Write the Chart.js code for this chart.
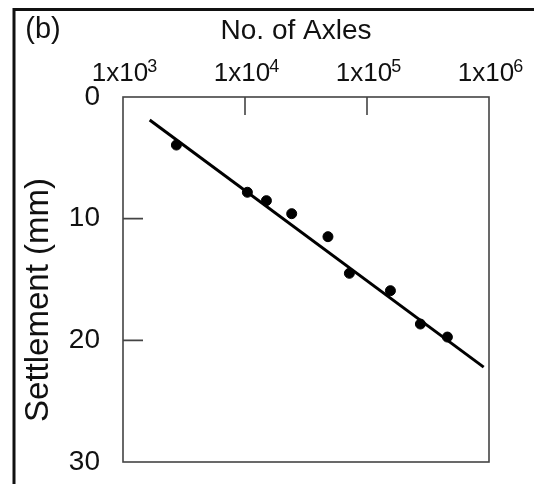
<!DOCTYPE html>
<html>
<head>
<meta charset="utf-8">
<script src="https://cdn.jsdelivr.net/npm/chart.js@4/dist/chart.umd.min.js"></script>
<style>
  html, body { margin: 0; padding: 0; background: #fff; }
  #wrap { width: 534px; height: 484px; }
</style>
</head>
<body>
<div id="wrap"><canvas id="chart" width="534" height="484"></canvas></div>
<script>
// Datos
const axles = [2740, 10460, 14980, 24140, 47860, 71730, 155600, 274000, 456000];
const settlement = [3.95, 7.83, 8.52, 9.59, 11.48, 14.49, 15.92, 18.66, 19.73];

// Recta de ajuste (extremos)
const fitAxles = [1655, 904500];
const fitSettlement = [1.89, 22.2];

// Ejes
const xTickValues = [1e3, 1e4, 1e5, 1e6];
const xTickBase = ['1x10', '1x10', '1x10', '1x10'];
const xTickExp = ['3', '4', '5', '6'];
const yTickValues = [0, 10, 20, 30];

const FONT = '"Liberation Sans", Arial, sans-serif';

function toPoints(xs, ys) {
    return xs.map((x, i) => ({ x: x, y: ys[i] }));
}

// Marco, caja del gráfico, marcas interiores y textos
const decorations = {
    id: 'decorations',
    afterDraw(chart) {
        const ctx = chart.ctx;
        const a = chart.chartArea;
        const xs = chart.scales.x;
        const ys = chart.scales.y;
        ctx.save();

        // marco exterior
        ctx.strokeStyle = '#111';
        ctx.lineWidth = 3;
        ctx.strokeRect(14, 9.5, 560, 520);

        // caja
        ctx.strokeStyle = '#444';
        ctx.lineWidth = 1.6;
        ctx.strokeRect(a.left, a.top, a.right - a.left, a.bottom - a.top);

        // marcas hacia dentro
        ctx.beginPath();
        xTickValues.slice(1, -1).forEach(v => {
            const px = xs.getPixelForValue(v);
            ctx.moveTo(px, a.top);
            ctx.lineTo(px, a.top + 18);
        });
        yTickValues.slice(1, -1).forEach(v => {
            const py = ys.getPixelForValue(v);
            ctx.moveTo(a.left, py);
            ctx.lineTo(a.left + 20, py);
        });
        ctx.stroke();

        // etiquetas del eje x con exponente
        ctx.fillStyle = '#111';
        ctx.textBaseline = 'alphabetic';
        ctx.textAlign = 'left';
        xTickValues.forEach((v, i) => {
            const px = xs.getPixelForValue(v);
            ctx.font = '26px ' + FONT;
            const wb = ctx.measureText(xTickBase[i]).width;
            ctx.font = '18px ' + FONT;
            const we = ctx.measureText(xTickExp[i]).width;
            const x0 = px - (wb + we) / 2 + 2;
            ctx.font = '26px ' + FONT;
            ctx.fillText(xTickBase[i], x0, 81);
            ctx.font = '18px ' + FONT;
            ctx.fillText(xTickExp[i], x0 + wb - 1, 72);
        });

        // textos
        ctx.textBaseline = 'middle';
        ctx.textAlign = 'center';
        ctx.font = '29px ' + FONT;
        ctx.fillText('(b)', 43, 30);
        ctx.font = '28px ' + FONT;
        ctx.fillText('No. of Axles', 296, 31);

        ctx.translate(39, 300);
        ctx.rotate(-Math.PI / 2);
        ctx.font = '33px ' + FONT;
        ctx.fillText('Settlement (mm)', 0, 0);
        ctx.restore();
    }
};

new Chart(document.getElementById('chart'), {
    type: 'scatter',
    data: {
        datasets: [{
            label: 'Datos',
            data: toPoints(axles, settlement),
            backgroundColor: '#000',
            borderColor: '#000',
            pointRadius: 5,
            pointHoverRadius: 5
        }, {
            label: 'Ajuste',
            data: toPoints(fitAxles, fitSettlement),
            showLine: true,
            borderColor: '#000',
            borderWidth: 3,
            pointRadius: 0
        }]
    },
    options: {
        responsive: false,
        animation: false,
        layout: { padding: { left: 0, top: 0, right: 45, bottom: 22 } },
        plugins: {
            legend: { display: false },
            tooltip: { enabled: false }
        },
        scales: {
            x: {
                type: 'logarithmic',
                position: 'top',
                min: 1e3,
                max: 1e6,
                afterBuildTicks: scale => {
                    scale.ticks = xTickValues.map(v => ({ value: v }));
                },
                afterFit: scale => {
                    scale.height = 97;
                    scale.paddingLeft = 0;
                    scale.paddingRight = 0;
                },
                grid: { display: false },
                border: { display: false },
                ticks: { display: false }
            },
            y: {
                reverse: true,
                min: 0,
                max: 30,
                afterBuildTicks: scale => {
                    scale.ticks = yTickValues.map(v => ({ value: v }));
                },
                afterFit: scale => {
                    scale.width = 123;
                    scale.paddingTop = 0;
                    scale.paddingBottom = 0;
                },
                grid: { display: false },
                border: { display: false },
                ticks: {
                    padding: 15,
                    color: '#111',
                    font: { size: 28, family: FONT }
                }
            }
        }
    },
    plugins: [decorations]
});
</script>
</body>
</html>
